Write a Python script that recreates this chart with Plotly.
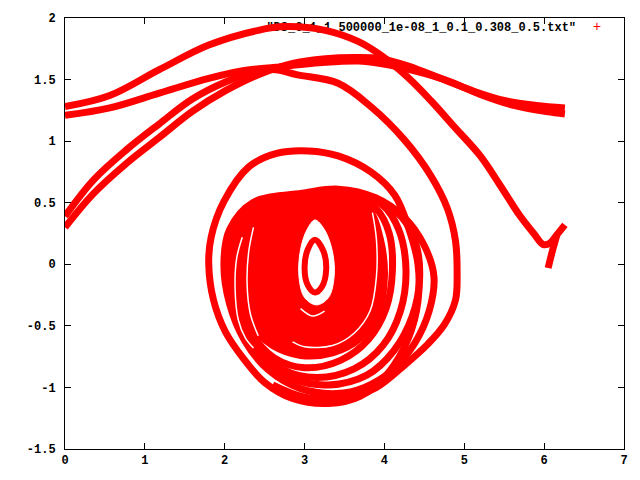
import plotly.graph_objects as go

# ---------------- data ----------------
# upper rotating branches (theta, omega)
arc_top_x = [0.0, 0.56, 1.18, 1.80, 2.42, 2.76, 3.26, 3.67, 3.95, 4.29, 4.58, 4.87, 5.20, 5.45, 5.69, 5.87, 5.99, 6.07, 6.16, 6.26]
arc_top_y = [1.28, 1.37, 1.58, 1.78, 1.90, 1.93, 1.90, 1.81, 1.70, 1.52, 1.33, 1.12, 0.88, 0.64, 0.40, 0.25, 0.16, 0.17, 0.24, 0.32]

arc_mid_x = [0.0, 0.56, 1.18, 1.80, 2.21, 2.64, 3.26, 3.67, 3.95, 4.38, 4.79, 5.20, 5.62, 6.03, 6.26]
arc_mid_y = [1.21, 1.27, 1.39, 1.51, 1.57, 1.60, 1.64, 1.65, 1.63, 1.57, 1.49, 1.38, 1.29, 1.24, 1.22]

arc_low1_x = [0.0, 0.35, 0.77, 1.18, 1.59, 2.01, 2.42, 2.84, 3.26, 3.67, 3.95, 4.30, 4.70, 5.10, 5.50, 5.90, 6.26]
arc_low1_y = [0.30, 0.57, 0.82, 1.03, 1.24, 1.41, 1.54, 1.63, 1.67, 1.68, 1.67, 1.61, 1.51, 1.41, 1.33, 1.29, 1.27]

arc_low2_x = [0.0, 0.35, 0.77, 1.18, 1.59, 2.01, 2.42, 2.64, 2.90, 3.42, 3.83, 4.25, 4.58, 4.79, 4.89, 4.91, 4.89, 4.75, 4.54, 4.25, 3.90, 3.50, 3.00, 2.60]
arc_low2_y = [0.39, 0.68, 0.93, 1.14, 1.34, 1.48, 1.57, 1.58, 1.54, 1.47, 1.28, 1.01, 0.72, 0.45, 0.19, -0.07, -0.29, -0.49, -0.65, -0.82, -1.00, -1.09, -1.08, -0.98]

hook_tail_x = [6.16, 6.10, 6.05]
hook_tail_y = [0.24, 0.10, -0.03]

# spiral windings around theta = pi
ring0_x = [3.05, 3.42, 3.83, 4.13, 4.30, 4.42, 4.42, 4.30, 4.05, 3.70, 3.30, 2.85, 2.50, 2.24, 2.01, 1.86, 1.80, 1.83, 1.99, 2.30, 2.65, 3.05]
ring0_y = [0.92, 0.88, 0.75, 0.56, 0.30, 0.00, -0.30, -0.60, -0.88, -1.07, -1.13, -1.09, -0.96, -0.77, -0.55, -0.29, 0.00, 0.22, 0.51, 0.79, 0.90, 0.92]

ring_d_x = [3.00, 3.42, 3.89, 4.25, 4.50, 4.62, 4.56, 4.38, 4.10, 3.75, 3.40, 2.95, 2.55, 2.25, 2.06, 1.99, 2.06, 2.35, 3.00]
ring_d_y = [0.58, 0.61, 0.54, 0.38, 0.15, -0.10, -0.38, -0.64, -0.86, -1.00, -1.05, -1.01, -0.86, -0.62, -0.32, 0.00, 0.28, 0.50, 0.58]

ring_c_x = [3.00, 3.42, 3.89, 4.22, 4.40, 4.44, 4.35, 4.12, 3.78, 3.30, 2.85, 2.50, 2.24, 2.07, 2.02, 2.10, 2.40, 3.00]
ring_c_y = [0.57, 0.60, 0.53, 0.38, 0.15, -0.12, -0.42, -0.70, -0.90, -0.98, -0.93, -0.78, -0.55, -0.27, 0.03, 0.30, 0.50, 0.57]

ring_b_x = [3.10, 3.60, 3.98, 4.18, 4.27, 4.20, 3.98, 3.62, 3.15, 2.72, 2.42, 2.20, 2.07, 2.06, 2.20, 2.55, 3.10]
ring_b_y = [0.56, 0.58, 0.48, 0.28, -0.05, -0.38, -0.66, -0.85, -0.92, -0.85, -0.67, -0.43, -0.15, 0.15, 0.38, 0.52, 0.56]

ring_a_x = [3.10, 3.60, 3.90, 4.06, 4.10, 4.02, 3.80, 3.45, 3.00, 2.62, 2.33, 2.15, 2.09, 2.15, 2.45, 3.10]
ring_a_y = [0.55, 0.56, 0.45, 0.25, -0.05, -0.36, -0.61, -0.78, -0.84, -0.76, -0.56, -0.30, 0.00, 0.28, 0.47, 0.55]

body_x = [3.05, 3.50, 3.80, 3.95, 4.00, 3.92, 3.70, 3.35, 2.95, 2.60, 2.30, 2.10, 2.03, 2.08, 2.25, 2.60, 3.05]
body_y = [0.53, 0.55, 0.45, 0.20, -0.10, -0.40, -0.60, -0.72, -0.74, -0.66, -0.48, -0.25, 0.00, 0.20, 0.38, 0.50, 0.53]

gap1_x = [2.22, 2.15, 2.13, 2.17, 2.26, 2.36]
gap1_y = [0.22, 0.05, -0.20, -0.45, -0.60, -0.68]
gap2_x = [2.36, 2.30, 2.28, 2.32, 2.42]
gap2_y = [0.30, 0.10, -0.15, -0.40, -0.58]
gap3_x = [3.85, 3.90, 3.90, 3.82, 3.62, 3.35, 3.00, 2.85]
gap3_y = [0.42, 0.20, -0.10, -0.38, -0.56, -0.66, -0.67, -0.63]
gap5_x = [2.95, 3.10, 3.25]
gap5_y = [-0.36, -0.42, -0.38]

hole_x = [3.13, 3.25, 3.35, 3.37, 3.30, 3.15, 3.00, 2.93, 2.95, 3.03, 3.13]
hole_y = [0.36, 0.28, 0.10, -0.10, -0.27, -0.33, -0.27, -0.10, 0.12, 0.28, 0.36]

inner_x = [3.13, 3.24, 3.27, 3.22, 3.13, 3.04, 3.00, 3.04, 3.13]
inner_y = [0.20, 0.10, -0.05, -0.18, -0.23, -0.17, -0.03, 0.12, 0.20]

x_tick_vals = [0, 1, 2, 3, 4, 5, 6, 7]
x_tick_text = ["0", "1", "2", "3", "4", "5", "6", "7"]
y_tick_vals = [-1.5, -1, -0.5, 0, 0.5, 1, 1.5, 2]
y_tick_text = ["-1.5", "-1", "-0.5", "0", "0.5", "1", "1.5", "2"]

key_label = '"DS_6_1_1_500000_1e-08_1_0.1_0.308_0.5.txt"'

# ---------------- styling ----------------
RED = "#ff0000"
FONT = dict(family="Liberation Mono", size=12, color="black", weight="bold")
LW = 7

fig = go.Figure()

# key (drawn first so the curves overlap it, as in the reference)
fig.add_trace(go.Scatter(x=[6.40], y=[1.92], mode="text", text=[key_label],
                         textposition="middle left", textfont=FONT,
                         hoverinfo="skip", showlegend=False))
fig.add_trace(go.Scatter(x=[6.66], y=[1.92], mode="text", text=["+"],
                         textposition="middle center",
                         textfont=dict(family="Liberation Mono", size=14, color=RED),
                         hoverinfo="skip", showlegend=False))

def line(x, y, width=LW, color=RED):
    fig.add_trace(go.Scatter(x=x, y=y, mode="lines",
                             line=dict(color=color, width=width, shape="spline", smoothing=1.0),
                             hoverinfo="skip", showlegend=False))

# dense body of the attractor
fig.add_trace(go.Scatter(x=body_x, y=body_y, mode="lines", fill="toself", fillcolor=RED,
                         line=dict(color=RED, width=LW, shape="spline", smoothing=1.0),
                         hoverinfo="skip", showlegend=False))
for rx, ry in [(ring0_x, ring0_y), (ring_d_x, ring_d_y), (ring_c_x, ring_c_y),
               (ring_b_x, ring_b_y), (ring_a_x, ring_a_y)]:
    line(rx, ry)

# thin white gaps between windings
for gx, gy in [(gap1_x, gap1_y), (gap2_x, gap2_y), (gap3_x, gap3_y), (gap5_x, gap5_y)]:
    line(gx, gy, width=1.5, color="white")

# central hole with the innermost loop
fig.add_trace(go.Scatter(x=hole_x, y=hole_y, mode="lines", fill="toself", fillcolor="white",
                         line=dict(color="white", width=1, shape="spline", smoothing=1.0),
                         hoverinfo="skip", showlegend=False))
line(inner_x, inner_y, width=6)

# rotating branches
for ax, ay in [(arc_top_x, arc_top_y), (arc_mid_x, arc_mid_y), (arc_low1_x, arc_low1_y),
               (arc_low2_x, arc_low2_y), (hook_tail_x, hook_tail_y)]:
    line(ax, ay)

axis_common = dict(showgrid=False, zeroline=False, showline=True, linecolor="black",
                   linewidth=1, mirror="ticks", ticks="inside", ticklen=6,
                   tickcolor="black", tickwidth=1, tickfont=FONT)

fig.update_layout(
    width=640, height=480,
    margin=dict(l=65, r=12, t=13, b=28),
    paper_bgcolor="white", plot_bgcolor="white",
    showlegend=False,
    xaxis=dict(range=[0, 7], tickvals=x_tick_vals, ticktext=x_tick_text, **axis_common),
    yaxis=dict(range=[-1.5, 2], tickvals=y_tick_vals, ticktext=y_tick_text,
               ticklabelstandoff=6, **axis_common),
)

fig.write_html("out.html")
